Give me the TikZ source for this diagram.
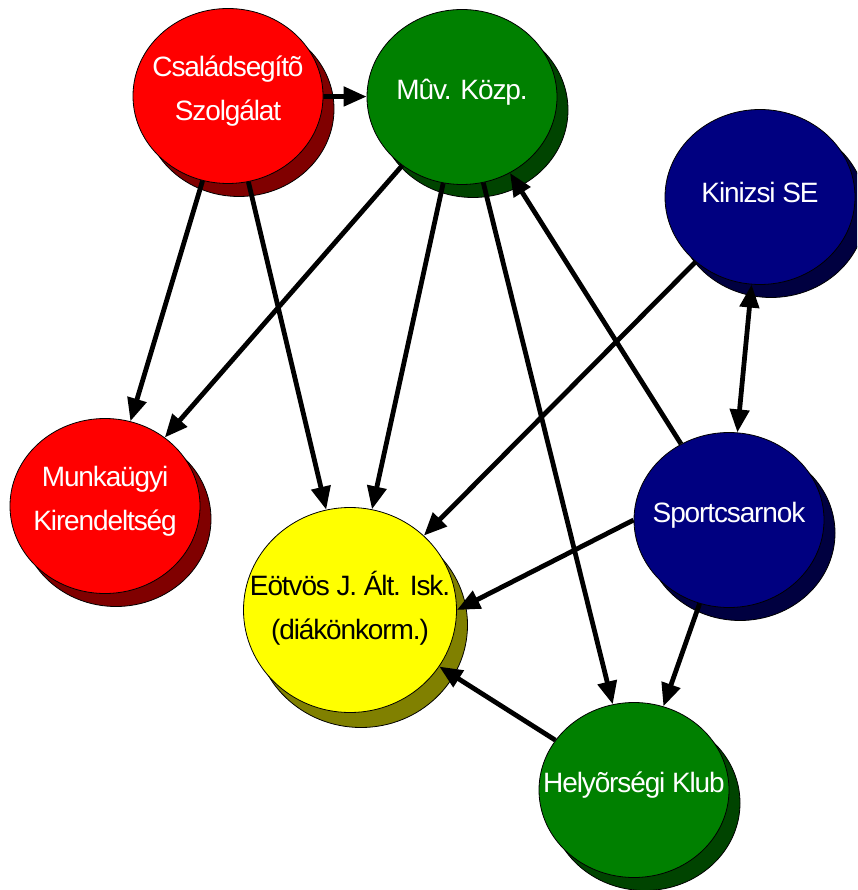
\documentclass[tikz,border=0pt]{standalone}
\usepackage{fontspec}
\setmainfont{Liberation Sans}[LetterSpace=-4]
\usetikzlibrary{positioning, shapes.geometric, shadows, arrows.meta}
\definecolor{brightred}{RGB}{255,0,0}
\definecolor{darkred}{RGB}{128,0,0}
\definecolor{leafgreen}{RGB}{0,128,0}
\definecolor{darkgreen}{RGB}{0,68,0}
\definecolor{navy}{RGB}{0,0,128}
\definecolor{darknavy}{RGB}{0,0,64}
\definecolor{sunyellow}{RGB}{255,255,0}
\definecolor{olive}{RGB}{128,128,0}
\tikzstyle{org} = [draw, ellipse, line width=0.8pt,
    minimum width=190pt, minimum height=175pt, inner sep=0pt]
\tikzstyle{redorg} = [org, fill=brightred,
    general shadow={shadow xshift=11pt, shadow yshift=-13pt, fill=darkred, draw=black, line width=0.8pt}]
\tikzstyle{greenorg} = [org, fill=leafgreen,
    general shadow={shadow xshift=11pt, shadow yshift=-13pt, fill=darkgreen, draw=black, line width=0.8pt}]
\tikzstyle{blueorg} = [org, fill=navy,
    general shadow={shadow xshift=11pt, shadow yshift=-13pt, fill=darknavy, draw=black, line width=0.8pt}]
\tikzstyle{yelloworg} = [org, fill=sunyellow, minimum width=213pt, minimum height=205pt,
    general shadow={shadow xshift=11pt, shadow yshift=-15pt, fill=olive, draw=black, line width=0.8pt}]
\tikzstyle{orgtext} = [text=white, align=center, yshift=5pt,
    font=\fontsize{28}{44}\selectfont]
\tikzstyle{link} = [line width=4.8pt, -{Triangle[length=23pt, width=19pt]}]

\begin{document}
\begin{tikzpicture}[x=1pt, y=-1pt]

        \useasboundingbox (0,0) rectangle (857,890);
        \clip (0,0) rectangle (857,890);

        \node[
            redorg,
            label={[orgtext]center:Családsegítõ\\Szolgálat}
        ](csal) at (228,96){};

        \node[
            greenorg,
            label={[orgtext]center:Mûv. Közp.}
        ](muv) at (462,97){};

        \node[
            blueorg,
            label={[orgtext]center:Kinizsi SE}
        ](kin) at (760,197){};

        \node[
            redorg,
            label={[orgtext]center:Munkaügyi\\Kirendeltség}
        ](munk) at (105,506){};

        \node[
            yelloworg,
            label={[orgtext, text=black, yshift=-3pt]center:Eötvös J. Ált. Isk.\\(diákönkorm.)}
        ](eot) at (350,610){};

        \node[
            blueorg,
            label={[orgtext]center:Sportcsarnok}
        ](sport) at (729,520){};

        \node[
            greenorg,
            label={[orgtext]center:Helyõrségi Klub}
        ](hely) at (634,790){};

        \draw[link] (csal) -- (muv);
        \draw[link] (csal) -- (munk);
        \draw[link] (csal) -- (eot);
        \draw[link] (muv) -- (munk);
        \draw[link] (muv) -- (eot);
        \draw[link] (muv) -- (hely);
        \draw[link] (sport) -- (muv);
        \draw[link] (kin) -- (eot);
        \draw[link, {Triangle[length=23pt, width=19pt]}-{Triangle[length=23pt, width=19pt]}] (kin) -- (sport);
        \draw[link] (sport.west) -- (eot.east);
        \draw[link] (sport) -- (hely);
        \draw[link] (hely) -- (eot);
    \end{tikzpicture}
\end{document}
